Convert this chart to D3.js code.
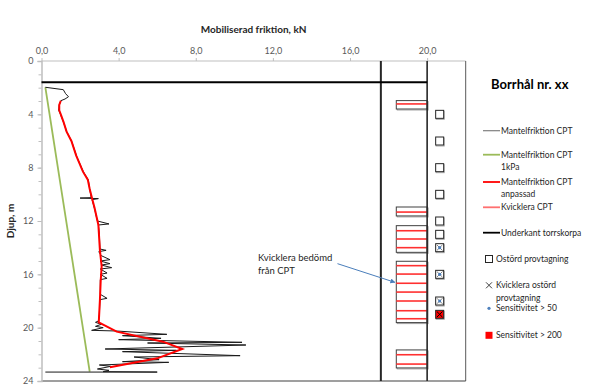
<!DOCTYPE html>
<html><head><meta charset="utf-8">
<script src="https://cdn.jsdelivr.net/npm/d3@7"></script>
<style>
body{margin:0;background:#fff;}
svg{display:block;font-family:Lato,"Liberation Sans",sans-serif;}
</style></head><body>
<svg id="c" width="600" height="387"></svg>
<script>
// ---------- data ----------
const xTicks = [0, 4, 8, 12, 16, 20];
const yTicks = [0, 4, 8, 12, 16, 20, 24];
// Mantelfriktion CPT [kN, depth m]
const cptX = [0.2,1.13,1.25,1.4,1.22,1.0,0.92,0.89,0.96,1.13,1.31,1.57,1.83,2.17,2.43,2.5,2.58,2.0,2.95,2.62,2.7,2.77,2.9,3.5,2.95,3.0,3.03,3.35,2.97,3.1,3.55,3.05,3.55,3.1,3.64,3.05,3.4,3.05,3.4,3.05,3.05,3.4,3.03,3.0,2.95,2.8,3.1,2.8,3.2,2.6,3.9,6.5,4.2,6.2,4.0,10.4,5.5,10.6,3.3,7.0,4.2,10.3,4.8,6.1,4.2,6.6,3.0,3.6,2.9,3.5,3.2,6.0,0.2];
const cptD = [1.97,2.15,2.45,2.68,2.85,2.98,3.3,3.68,3.92,4.55,5.3,6.05,7.18,8.3,8.93,9.6,10.25,10.28,10.32,10.4,10.8,11.2,12.0,12.22,12.3,13.0,14.1,14.2,14.3,14.6,14.9,15.0,15.2,15.3,15.5,15.6,15.9,16.0,16.3,16.4,17.5,17.8,17.9,19.0,19.5,19.6,19.75,19.9,20.0,20.2,20.25,20.5,20.6,20.8,20.9,21.1,21.15,21.3,21.6,21.7,21.8,22.1,22.2,22.4,22.55,22.6,22.8,22.9,23.1,23.2,23.3,23.33,23.33];
// Mantelfriktion CPT 1kPa
const kpaX = [0.2, 2.5];
const kpaD = [1.97, 23.3];
// Mantelfriktion CPT anpassad
const adjX = [1.0,0.92,0.92,1.0,1.15,1.3,1.55,1.8,2.15,2.4,2.5,2.62,2.75,2.95,3.03,3.12,3.07,3.03,2.97,3.9,6.3,7.3,6.0,3.55];
const adjD = [2.98,3.3,3.7,4.0,4.6,5.3,6.0,7.1,8.3,8.9,9.6,10.3,11.0,12.3,14.2,15.4,16.5,17.9,19.6,20.3,21.05,21.6,22.3,22.97];
// Kvicklera zones (top, bottom depth) and CPT lines
const zoneTop = [2.97, 10.95, 12.35, 15.02, 21.67];
const zoneBot = [3.6, 11.62, 14.35, 19.62, 23.02];
const kvickD = [3.22,11.33,12.73,13.35,14.0,15.35,15.98,16.67,17.33,18.0,18.73,19.33,22.03,22.73];
// Underkant torrskorpa
const torrD = 1.6;
// Sampling
const sampleD = [4,6,8,10,12,13,14,16,18,19];
const kvickSampleD = [14,16,18,19];
const sens50D = [14,16,18];
const sens200D = [19];
const legendItems = [
  {t:["Mantelfriktion CPT"], c:"#7f7f7f", type:"line"},
  {t:["Mantelfriktion CPT","1kPa"], c:"#9bbb59", type:"line"},
  {t:["Mantelfriktion CPT","anpassad"], c:"#ff0000", type:"line"},
  {t:["Kvicklera CPT"], c:"#ff7070", type:"line"},
  {t:["Underkant torrskorpa"], c:"#000", type:"line"},
  {t:["Ostörd provtagning"], type:"square"},
  {t:["Kvicklera ostörd","provtagning"], type:"x"},
  {t:["Sensitivitet > 50"], type:"dot"},
  {t:["Sensitivitet > 200"], type:"red"}
];

// ---------- layout ----------
const svg = d3.select("#c");
const x = d3.scaleLinear([0, 22], [41.5, 465.7]);
const y = d3.scaleLinear([0, 24], [61, 381]);
const colX1 = 17.6, colX2 = 20, zoneX0 = 18.4, sampleX = 20.65;

// frame
svg.append("line").attr("x1",x(0)).attr("x2",x(22)).attr("y1",y(0)).attr("y2",y(0)).attr("stroke","#bfbfbf");
svg.append("line").attr("x1",x(22)).attr("x2",x(22)).attr("y1",y(0)).attr("y2",y(24)).attr("stroke","#595959");
svg.append("line").attr("x1",x(0)).attr("x2",x(22)).attr("y1",y(24)).attr("y2",y(24)).attr("stroke","#404040").attr("stroke-width",1.2);

// top axis
const gx = svg.append("g").attr("transform",`translate(0,${y(0)})`)
  .call(d3.axisTop(x).tickValues(xTicks).tickSize(3).tickPadding(4)
    .tickFormat(d => d3.format(".1f")(d).replace(".", ",")));
gx.select(".domain").remove();
gx.selectAll("line").attr("stroke","#bfbfbf");
gx.selectAll("text").attr("fill","#595959").style("font-size","9px").style("font-family","Lato,sans-serif");

// left axis minor
const gym = svg.append("g").attr("transform",`translate(${x(0)},0)`)
  .call(d3.axisLeft(y).tickValues(d3.range(0,25,1)).tickSize(3).tickFormat(""));
gym.select(".domain").remove();
gym.selectAll("line").attr("stroke","#bfbfbf");
const gy = svg.append("g").attr("transform",`translate(${x(0)},0)`)
  .call(d3.axisLeft(y).tickValues(yTicks).tickSize(4).tickPadding(4));
gy.select(".domain").attr("stroke","#bfbfbf").attr("stroke-width",1.5);
gy.selectAll("line").attr("stroke","#bfbfbf");
gy.selectAll("text").attr("fill","#595959").style("font-size","9px").style("font-family","Lato,sans-serif");

// axis titles
svg.append("text").attr("x",(x(0)+x(22))/2).attr("y",33).attr("text-anchor","middle")
  .style("font-size","10px").style("font-weight","bold").attr("fill","#262626").text("Mobiliserad friktion, kN");
svg.append("text").attr("transform",`translate(14,${(y(0)+y(24))/2}) rotate(-90)`).attr("text-anchor","middle")
  .style("font-size","10px").style("font-weight","bold").attr("fill","#262626").text("Djup, m");

// zones
const zones = zoneTop.map((t,i)=>({t, b:zoneBot[i]}));
svg.selectAll(".zs").data(zones).join("rect").attr("class","zs")
  .attr("x",x(zoneX0)+1).attr("width",x(colX2)-x(zoneX0)).attr("y",d=>y(d.t)+1).attr("height",d=>y(d.b)-y(d.t))
  .attr("fill","none").attr("stroke","#a6a6a6").attr("stroke-width",1);
svg.selectAll(".zr").data(zones).join("rect").attr("class","zr")
  .attr("x",x(zoneX0)).attr("width",x(colX2)-x(zoneX0)).attr("y",d=>y(d.t)).attr("height",d=>y(d.b)-y(d.t))
  .attr("fill","#fff").attr("stroke","#404040").attr("stroke-width",1);
svg.selectAll(".kl").data(kvickD).join("line").attr("class","kl")
  .attr("x1",x(zoneX0)).attr("x2",x(colX2)).attr("y1",d=>y(d)).attr("y2",d=>y(d))
  .attr("stroke","#ff3030").attr("stroke-width",1.6);

// column lines
[colX1,colX2].forEach((c,i)=>svg.append("line").attr("x1",x(c)).attr("x2",x(c)).attr("y1",y(0)).attr("y2",y(24))
  .attr("stroke","#262626").attr("stroke-width",i===0?2:1.6));
svg.append("line").attr("x1",x(0)).attr("x2",x(colX2)).attr("y1",y(torrD)).attr("y2",y(torrD))
  .attr("stroke","#000").attr("stroke-width",2);

// curves
const line = d3.line().x(d=>x(d[0])).y(d=>y(d[1]));
svg.append("path").attr("d",line(kpaX.map((v,i)=>[v,kpaD[i]]))).attr("fill","none").attr("stroke","#9bbb59").attr("stroke-width",1.8);
svg.append("path").attr("d",line(cptX.map((v,i)=>[v,cptD[i]]))).attr("fill","none").attr("stroke","#1a1a1a").attr("stroke-width",1);
svg.append("path").attr("d",line(adjX.map((v,i)=>[v,adjD[i]]))).attr("fill","none").attr("stroke","#ff0000").attr("stroke-width",2);

// samples
const sq = 8;
svg.selectAll(".ss").data(sampleD).join("rect").attr("class","ss")
  .attr("x",x(sampleX)-sq/2+0.5).attr("y",d=>y(d)-sq/2+1).attr("width",sq).attr("height",sq)
  .attr("fill","none").attr("stroke","#a6a6a6");
svg.selectAll(".sm").data(sampleD).join("rect").attr("class","sm")
  .attr("x",x(sampleX)-sq/2).attr("y",d=>y(d)-sq/2).attr("width",sq).attr("height",sq)
  .attr("fill",d=>sens200D.includes(d)?"#ff0000":"#fff").attr("stroke","#262626").attr("stroke-width",1);
svg.selectAll(".sx").data(kvickSampleD).join("path").attr("class","sx")
  .attr("d",d=>{const cx=x(sampleX), cy=y(d), r=2.8; return `M${cx-r},${cy-r}L${cx+r},${cy+r}M${cx-r},${cy+r}L${cx+r},${cy-r}`;})
  .attr("stroke",d=>sens200D.includes(d)?"#000":"#7f7f7f").attr("stroke-width",1);
svg.selectAll(".sd").data(sens50D).join("circle").attr("class","sd")
  .attr("cx",x(sampleX)).attr("cy",d=>y(d)).attr("r",1.6).attr("fill","#4f81bd");

// annotation
svg.append("defs").append("marker").attr("id","ah").attr("viewBox","0 0 10 10").attr("refX",9).attr("refY",5)
  .attr("markerWidth",5).attr("markerHeight",5).attr("orient","auto")
  .append("path").attr("d","M0,0L10,5L0,10z").attr("fill","#4a7ebb");
svg.append("line").attr("x1",x(15.35)).attr("y1",y(15.2)).attr("x2",x(18.33)).attr("y2",y(16.6))
  .attr("stroke","#4a7ebb").attr("stroke-width",1).attr("marker-end","url(#ah)");
const ann = svg.append("text").attr("x",x(11.23)).attr("y",y(15.0)).attr("fill","#262626").style("font-size","9.5px");
ann.append("tspan").attr("x",x(11.23)).attr("dy",0).text("Kvicklera bedömd");
ann.append("tspan").attr("x",x(11.23)).attr("dy",12.6).text("från CPT");

// legend
svg.append("text").attr("x",491).attr("y",89).style("font-size","13px").style("font-weight","bold").attr("fill","#000").text("Borrhål nr. xx");
const ly = [130.7,154.7,182,207.3,232.7,259,285.3,308.3,335.3];
const lg = svg.append("g").style("font-size","8.5px");
legendItems.forEach((it,i)=>{
  const cy = ly[i];
  let tx = 501;
  if(it.type==="line"){
    lg.append("line").attr("x1",483).attr("x2",500).attr("y1",cy).attr("y2",cy).attr("stroke",it.c).attr("stroke-width",it.c==="#7f7f7f"?1.2:1.8);
  } else {
    tx = 496;
    if(it.type==="square") lg.append("rect").attr("x",485.5).attr("y",cy-3.5).attr("width",7).attr("height",7).attr("fill","#fff").attr("stroke","#262626");
    if(it.type==="x") lg.append("path").attr("d",`M${486},${cy-3}L${492},${cy+3}M${486},${cy+3}L${492},${cy-3}`).attr("stroke","#404040");
    if(it.type==="dot") lg.append("circle").attr("cx",489).attr("cy",cy).attr("r",1.6).attr("fill","#4f81bd");
    if(it.type==="red") lg.append("rect").attr("x",485.5).attr("y",cy-3.5).attr("width",7).attr("height",7).attr("fill","#ff0000");
  }
  const t = lg.append("text").attr("fill","#262626");
  it.t.forEach((s,j)=>t.append("tspan").attr("x",tx).attr("y",cy+3+j*12.3).text(s));
});
</script></body></html>
